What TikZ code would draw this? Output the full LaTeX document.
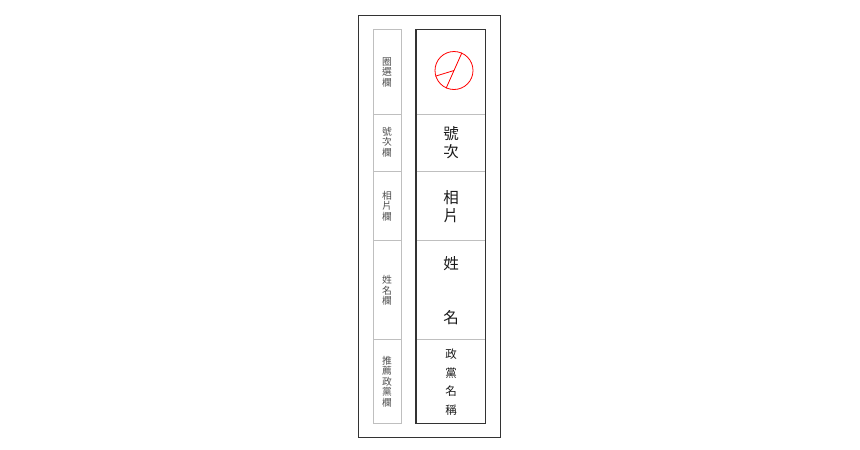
\documentclass[tikz,border=0pt]{standalone}
\usepackage{fontspec}
\newfontfamily\cjk{Noto Sans CJK TC}
\usetikzlibrary{positioning}

\begin{document}
\begin{tikzpicture}[x=1pt, y=-1pt,
    lab/.style={font=\cjk\fontsize{9.8}{10.5}\selectfont, text=black!70, align=center, inner sep=0pt},
    big/.style={font=\cjk\fontsize{15.5}{18}\selectfont, text=black!90, align=center, inner sep=0pt},
    party/.style={font=\cjk\fontsize{11.5}{18.7}\selectfont, text=black!90, align=center, inner sep=0pt},
    thin/.style={draw=black!25, line width=0.8pt}]

  \useasboundingbox (0,0) rectangle (860,450);

  % outer sheet
  \draw[black!80, line width=1pt] (358.5,15.5) rectangle (500,437.5);

  % left label column
  \draw[thin] (373.5,29.5) rectangle (401,423.5);
  \foreach \y in {114,171,240,339}
    \draw[thin] (373.5,\y) -- (401,\y);

  \node[lab] (l1) at (387,72) {圈\\選\\欄};
  \node[lab] (l2) at (387,142) {號\\次\\欄};
  \node[lab] (l3) at (387,206) {相\\片\\欄};
  \node[lab] (l4) at (387,290.5) {姓\\名\\欄};
  \node[lab] (l5) at (387,381.5) {推\\薦\\政\\黨\\欄};

  % candidate column
  \foreach \y in {114,171,240,339}
    \draw[thin] (416,\y) -- (485.5,\y);
  \draw[black!80, line width=1.8pt] (416,29.5) rectangle (485.5,423.5);

  \node[circle, draw=red, line width=0.8pt, minimum size=38pt, inner sep=0pt] (mark) at (454,70.5) {};
  \draw[red, line width=0.8pt] (mark.66) -- (mark.246);
  \draw[red, line width=0.8pt] (mark.197) -- (mark.center);

  \node[big] (num) at (451,142.5) {號\\次};
  \node[big] (pic) at (451,206.5) {相\\片};
  \node[big] (sur) at (451,263.5) {姓};
  \node[big] (giv) at (451,318) {名};
  \node[party] (par) at (451,382) {政\\黨\\名\\稱};
\end{tikzpicture}
\end{document}
